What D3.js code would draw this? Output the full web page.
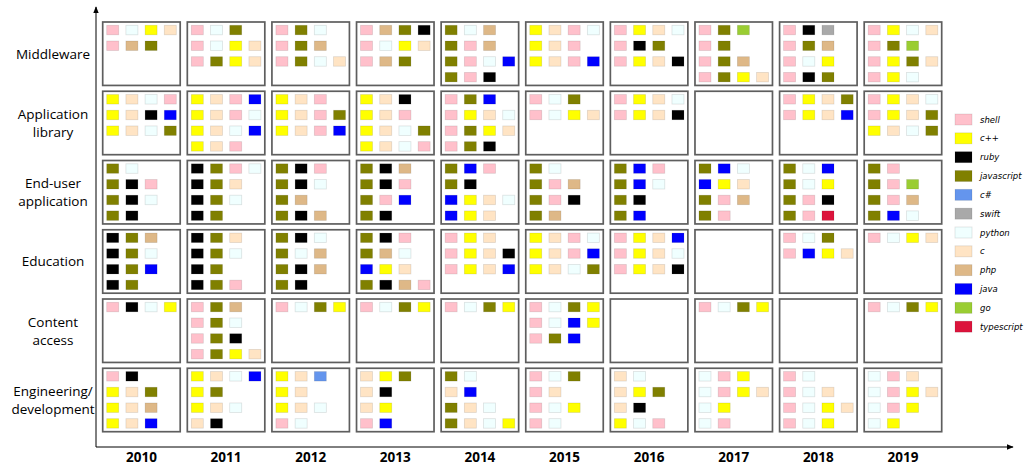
<!DOCTYPE html>
<html>
<head>
<meta charset="utf-8">
<script src="https://cdn.jsdelivr.net/npm/d3@7"></script>
<style>
  body { margin: 0; background: #fff; }
  svg { display: block; }
</style>
</head>
<body>
<svg id="chart" width="1035" height="467"></svg>
<script>
// ---- Data ----
const years = ["2010","2011","2012","2013","2014","2015","2016","2017","2018","2019"];
const categories = ["Middleware","Application library","End-user application","Education","Content access","Engineering/ development"];
const categoryLines = [["Middleware"],["Application","library"],["End-user","application"],["Education"],["Content","access"],["Engineering/","development"]];

const languages = ["shell","c++","ruby","javascript","c#","swift","python","c","php","java","go","typescript"];
const langColors = ["#FFC0CB","#FFFF00","#000000","#808000","#6495ED","#A9A9A9","#F0FFFF","#FFE4C4","#DEB887","#0000FF","#9ACD32","#DC143C"];

// Each cell: rows separated by "|", entries by ",", "-" = empty slot
const middleware = [
  "shell,python,c++,c|shell,php,javascript",
  "shell,python,javascript|shell,python,c++,c|shell,javascript,c++,c",
  "shell,javascript,python|shell,javascript,php|shell,javascript,python,c",
  "shell,php,javascript,ruby|shell,python,c++,c|shell,php,javascript",
  "javascript,python,php|javascript,shell,php|javascript,shell,python,java|javascript,shell,ruby",
  "c++,c,shell,python|c++,c,shell|c++,c,shell,java",
  "shell,c++,c,python|shell,ruby,javascript|shell,c++,c,ruby",
  "shell,javascript,go|shell,javascript|shell,javascript,php|shell,javascript,c++,c",
  "shell,ruby,swift|shell,javascript,php|shell,python,c++|shell,ruby,javascript",
  "shell,c++,python,c|shell,javascript,go|shell,c++,javascript,c|shell,c++,python"
];
const applicationLibrary = [
  "c++,c,python,shell|c++,c,ruby,java|c++,c,python,javascript",
  "c++,c,shell,java|c++,c,shell,python|c++,c,python,java|c++,c,shell",
  "c++,c,shell|c++,c,shell,javascript|c++,c,shell,java",
  "c++,c,ruby|c++,c,shell|c++,c,python,javascript|c++,c,python,shell",
  "shell,javascript,java|shell,c++,c,python|shell,javascript,c++,c|shell,javascript,ruby",
  "shell,python,javascript|shell,python,c++,c",
  "shell,c++,c,python|shell,c++,c,ruby",
  "",
  "shell,c++,c,javascript|shell,c++,c,java",
  "shell,c++,c,python|shell,c++,c,javascript|c++,c,python,javascript"
];
const endUserApplication = [
  "javascript,python|javascript,ruby,shell|javascript,ruby,python|javascript,ruby",
  "ruby,javascript,shell,python|ruby,javascript,c|ruby,javascript,python|ruby,javascript",
  "javascript,ruby,shell|javascript,ruby,python|javascript,php|javascript,ruby,php",
  "javascript,ruby,php|javascript,ruby,shell|javascript,shell,java|javascript,ruby",
  "javascript,java,shell|javascript,ruby|java,c++,c,python|java,c++,c",
  "javascript,python|javascript,shell,php|javascript,shell,ruby|javascript,php",
  "javascript,java,shell|javascript,java,python|javascript,ruby|javascript,java",
  "javascript,java,python|java,c++,c|javascript,shell,php|javascript,shell",
  "javascript,python,java|javascript,python,c++|javascript,shell,ruby|javascript,shell,typescript",
  "javascript,shell|javascript,shell,go|javascript,shell,php|javascript,java,python"
];
const education = [
  "ruby,javascript,php|ruby,javascript,python|ruby,javascript,java|ruby,javascript",
  "ruby,javascript,c|ruby,javascript,python|ruby,javascript|ruby,javascript,shell",
  "javascript,ruby,python|javascript,python,php|javascript,ruby,php|javascript,ruby",
  "javascript,ruby,shell|javascript,php,python|java,c++,c|javascript,ruby,php,shell",
  "shell,c++,c|shell,c++,c,ruby|shell,c++,c,java",
  "c++,c,shell,python|c++,c,shell,java|c++,c,python,javascript",
  "shell,c++,c,java|shell,c++,c,python|shell,c++,c,ruby",
  "",
  "shell,python,javascript|shell,java,c++,c",
  "shell,python,c++,c"
];
const contentAccess = [
  "shell,ruby,python,c++",
  "shell,javascript,php|shell,javascript,python|shell,javascript,ruby|shell,javascript,c++,c",
  "shell,python,javascript,c++",
  "shell,python,javascript,c++",
  "shell,python,javascript,c++",
  "shell,python,javascript,c++|shell,python,java,c++|shell,javascript,java",
  "",
  "shell,python,javascript,c++",
  "",
  "shell,python,javascript,c++"
];
const engineeringDevelopment = [
  "shell,ruby|c++,c,javascript|c++,c,php|c++,c,java",
  "c++,c,python,java|c++,javascript|c++,c,python|c,ruby",
  "c++,c,c#|c++,c|c++,c,python|shell,python",
  "c,c++,javascript|c,ruby|c,c++|shell,java",
  "javascript,python|c,java|javascript,c,python|javascript,c,python,c++",
  "shell,python,javascript|shell,c|shell,python,c++|shell,python",
  "c,python|c,c++,javascript|c,ruby|c++,python,shell",
  "python,shell,c++|python,shell,c++,c|python,c++|python,shell",
  "shell,python|shell,python,c|shell,python,c++,c|shell,python,c++",
  "python,shell,c|python,shell,c++,c|python,shell,c++|python,c++"
];
const cellData = [middleware, applicationLibrary, endUserApplication, education, contentAccess, engineeringDevelopment];

// ---- Build flat marks ----
const marks = [];
cellData.forEach((rowArr, ci) => {
  rowArr.forEach((cellStr, yi) => {
    if (!cellStr) return;
    cellStr.split("|").forEach((line, r) => {
      line.split(",").forEach((lang, c) => {
        if (lang && lang !== "-") marks.push({cat: categories[ci], year: years[yi], r, c, lang});
      });
    });
  });
});

// ---- Scales ----
const svg = d3.select("#chart");
const x = d3.scaleBand().domain(years).range([102.7, 941.7]).paddingInner(0.084).paddingOuter(0);
const y = d3.scaleBand().domain(categories).range([22, 431.7]).paddingInner(0.084).paddingOuter(0);
const slotX = d3.scaleBand().domain([0,1,2,3]).range([4, 73.6]).paddingInner(0.375);
const slotY = d3.scaleBand().domain([0,1,2,3]).range([3.3, 59.9]).paddingInner(0.395);
const color = d3.scaleOrdinal().domain(languages).range(langColors);

// ---- Cells ----
const cells = [];
categories.forEach(cat => years.forEach(yr => cells.push({cat, yr})));
svg.append("g").selectAll("rect").data(cells).join("rect")
  .attr("x", d => x(d.yr)).attr("y", d => y(d.cat))
  .attr("width", x.bandwidth()).attr("height", y.bandwidth())
  .attr("fill", "#fff").attr("stroke", "#5e5e5e").attr("stroke-width", 1.7);

// ---- Squares ----
svg.append("g").selectAll("rect").data(marks).join("rect")
  .attr("x", d => x(d.year) + slotX(d.c))
  .attr("y", d => y(d.cat) + slotY(d.r))
  .attr("width", slotX.bandwidth()).attr("height", slotY.bandwidth())
  .attr("fill", d => color(d.lang))
  .attr("stroke", "rgba(0,0,0,0.12)").attr("stroke-width", 0.8);

// ---- Axes lines with arrows ----
const defs = svg.append("defs");
defs.append("marker").attr("id","arrow").attr("viewBox","0 0 10 10")
  .attr("refX", 9).attr("refY", 5).attr("markerWidth", 7).attr("markerHeight", 7)
  .attr("orient","auto")
  .append("path").attr("d","M0,1 L10,5 L0,9 z").attr("fill","#000");

const axisY = 447;
const axisX = 96;
svg.append("line").attr("x1", axisX).attr("y1", axisY).attr("x2", axisX).attr("y2", 7)
  .attr("stroke","#000").attr("stroke-width",1).attr("marker-end","url(#arrow)");
svg.append("line").attr("x1", axisX).attr("y1", axisY).attr("x2", 1013).attr("y2", axisY)
  .attr("stroke","#000").attr("stroke-width",1).attr("marker-end","url(#arrow)");

// ---- Year labels ----
svg.append("g").selectAll("text").data(years).join("text")
  .attr("x", d => x(d) + x.bandwidth()/2)
  .attr("y", 462)
  .attr("text-anchor","middle")
  .attr("font-family","'Open Sans', sans-serif")
  .attr("font-weight","bold")
  .attr("font-size", 13.5)
  .attr("fill","#000")
  .text(d => d);

// ---- Category labels ----
const catG = svg.append("g").selectAll("text").data(categories).join("text")
  .attr("text-anchor","middle")
  .attr("font-family","'Open Sans', sans-serif")
  .attr("font-size", 13.5)
  .attr("fill","#000");
catG.each(function(d, i) {
  const lines = categoryLines[i];
  const cy = y(d) + y.bandwidth()/2;
  const lh = 18;
  const t = d3.select(this);
  lines.forEach((ln, k) => {
    t.append("tspan").attr("x", 53)
      .attr("y", cy + (k - (lines.length - 1)/2) * lh + 5)
      .text(ln);
  });
});

// ---- Legend ----
const legY = d3.scaleBand().domain(languages).range([114, 340]).paddingInner(0);
const leg = svg.append("g").selectAll("g").data(languages).join("g")
  .attr("transform", d => `translate(955, ${legY(d)})`);
leg.append("rect").attr("width", 17).attr("height", 11)
  .attr("fill", d => color(d))
  .attr("stroke", "rgba(0,0,0,0.12)").attr("stroke-width", 0.8);
leg.append("text").attr("x", 25).attr("y", 8.5)
  .attr("font-family","'DejaVu Sans', sans-serif")
  .attr("font-style","italic")
  .attr("font-size", 8.5)
  .attr("fill","#000")
  .text(d => d);
</script>
</body>
</html>
